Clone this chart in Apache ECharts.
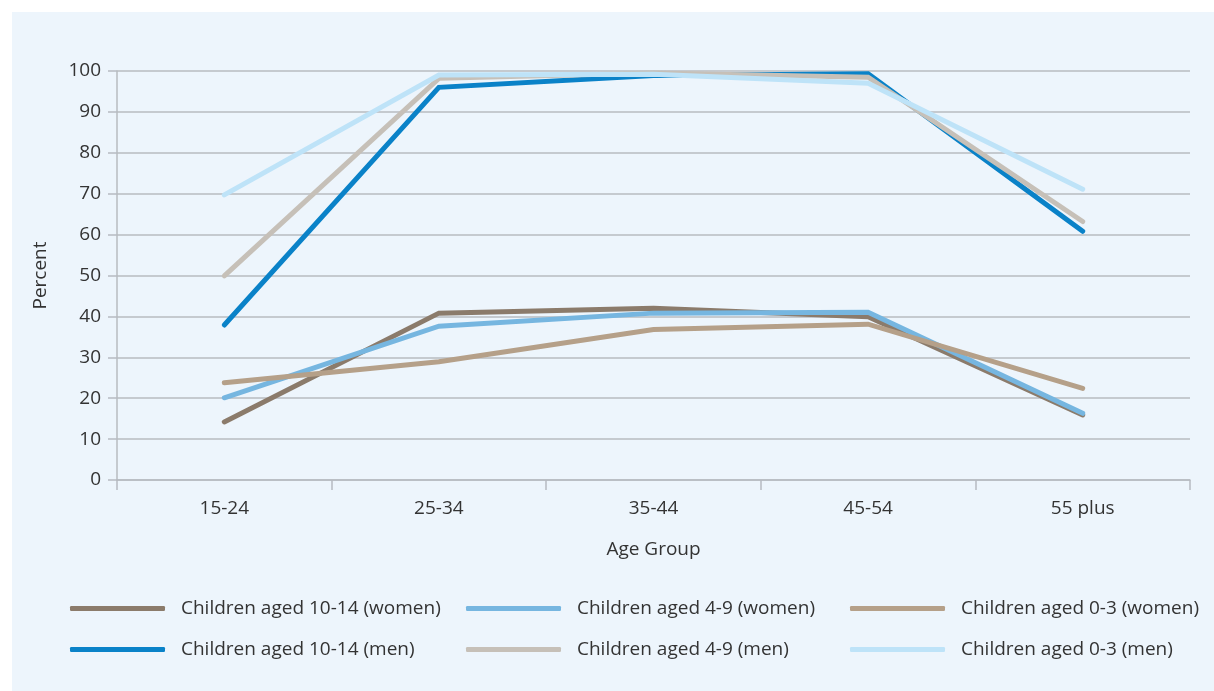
<!DOCTYPE html>
<html>
<head>
<meta charset="utf-8">
<script src="https://cdn.jsdelivr.net/npm/echarts@6/dist/echarts.min.js"></script>
<style>
  html, body { margin: 0; padding: 0; background: #ffffff; }
  #panel { position: absolute; left: 12px; top: 12px; width: 1202px; height: 679px; background: #edf5fc; }
  #chart { position: absolute; left: 0; top: 0; width: 1214px; height: 691px; }
</style>
</head>
<body>
<div id="panel"></div>
<div id="chart"></div>
<script>
// Share of respondents (percent) by age group of the parent
const ageGroups = ['15-24', '25-34', '35-44', '45-54', '55 plus'];
const yTicks = [0, 10, 20, 30, 40, 50, 60, 70, 80, 90, 100];

const women10to14 = [14.2, 40.8, 42.0, 39.9, 15.9];
const women4to9   = [20.1, 37.6, 40.8, 41.0, 16.3];
const women0to3   = [23.8, 28.9, 36.8, 38.1, 22.4];
const men10to14   = [37.9, 96.0, 98.9, 99.3, 60.8];
const men4to9     = [49.9, 98.2, 99.5, 98.5, 63.2];
const men0to3     = [69.7, 99.0, 99.2, 97.0, 71.1];

const seriesDefs = [
  { name: 'Children aged 10-14 (women)', data: women10to14, color: '#8b7b6b' },
  { name: 'Children aged 4-9 (women)',   data: women4to9,   color: '#76b6e0' },
  { name: 'Children aged 0-3 (women)',   data: women0to3,   color: '#b5a089' },
  { name: 'Children aged 10-14 (men)',   data: men10to14,   color: '#0a82c8' },
  { name: 'Children aged 4-9 (men)',     data: men4to9,     color: '#c6c0b8' },
  { name: 'Children aged 0-3 (men)',     data: men0to3,     color: '#bee3f8' }
];

const FONT = '"Open Sans", "Noto Sans", sans-serif';
const FS = 19;
const textColor = '#333333';
const gridColor = '#b7bbc1';

// One vertical legend per column: women on top, men below
const legendCols = [
  { left: 70,  items: [seriesDefs[0].name, seriesDefs[3].name] },
  { left: 466, items: [seriesDefs[1].name, seriesDefs[4].name] },
  { left: 850, items: [seriesDefs[2].name, seriesDefs[5].name] }
];

const chart = echarts.init(document.getElementById('chart'), null, { renderer: 'canvas' });

chart.setOption({
  backgroundColor: 'transparent',
  animation: false,
  textStyle: { fontFamily: FONT },
  grid: { left: 117, right: 24, top: 71, bottom: 211, containLabel: false },
  legend: legendCols.map(col => ({
    orient: 'vertical',
    left: col.left,
    top: 599,
    padding: 0,
    itemWidth: 95,
    itemHeight: 5,
    itemGap: 22,
    icon: 'roundRect',
    selectedMode: false,
    data: col.items,
    textStyle: { fontFamily: FONT, fontSize: FS, color: textColor, padding: [0, 0, 0, 11] }
  })),
  xAxis: {
    type: 'category',
    data: ageGroups,
    boundaryGap: true,
    name: 'Age Group',
    nameLocation: 'middle',
    nameGap: 60,
    nameTextStyle: { fontFamily: FONT, fontSize: FS, color: textColor },
    axisLine: { show: true, lineStyle: { color: gridColor, width: 1.5 } },
    axisTick: { show: true, length: 10, lineStyle: { color: gridColor, width: 1.5 } },
    axisLabel: { fontFamily: FONT, fontSize: FS, color: textColor, margin: 19 },
    splitLine: { show: false }
  },
  yAxis: {
    type: 'value',
    min: yTicks[0],
    max: yTicks[yTicks.length - 1],
    interval: yTicks[1] - yTicks[0],
    name: 'Percent',
    nameLocation: 'middle',
    nameRotate: 90,
    nameGap: 67,
    nameTextStyle: { fontFamily: FONT, fontSize: FS, color: textColor },
    axisLine: { show: true, lineStyle: { color: gridColor, width: 1.5 } },
    axisTick: { show: true, length: 9, lineStyle: { color: gridColor, width: 1.5 } },
    axisLabel: { fontFamily: FONT, fontSize: FS, color: textColor, margin: 16 },
    splitLine: { show: true, lineStyle: { color: gridColor, width: 1.5 } }
  },
  series: seriesDefs.map(s => ({
    name: s.name,
    type: 'line',
    data: s.data,
    symbol: 'none',
    smooth: false,
    color: s.color,
    lineStyle: { color: s.color, width: 5, cap: 'round', join: 'miter' },
    itemStyle: { color: s.color },
    emphasis: { disabled: true }
  }))
});
</script>
</body>
</html>
